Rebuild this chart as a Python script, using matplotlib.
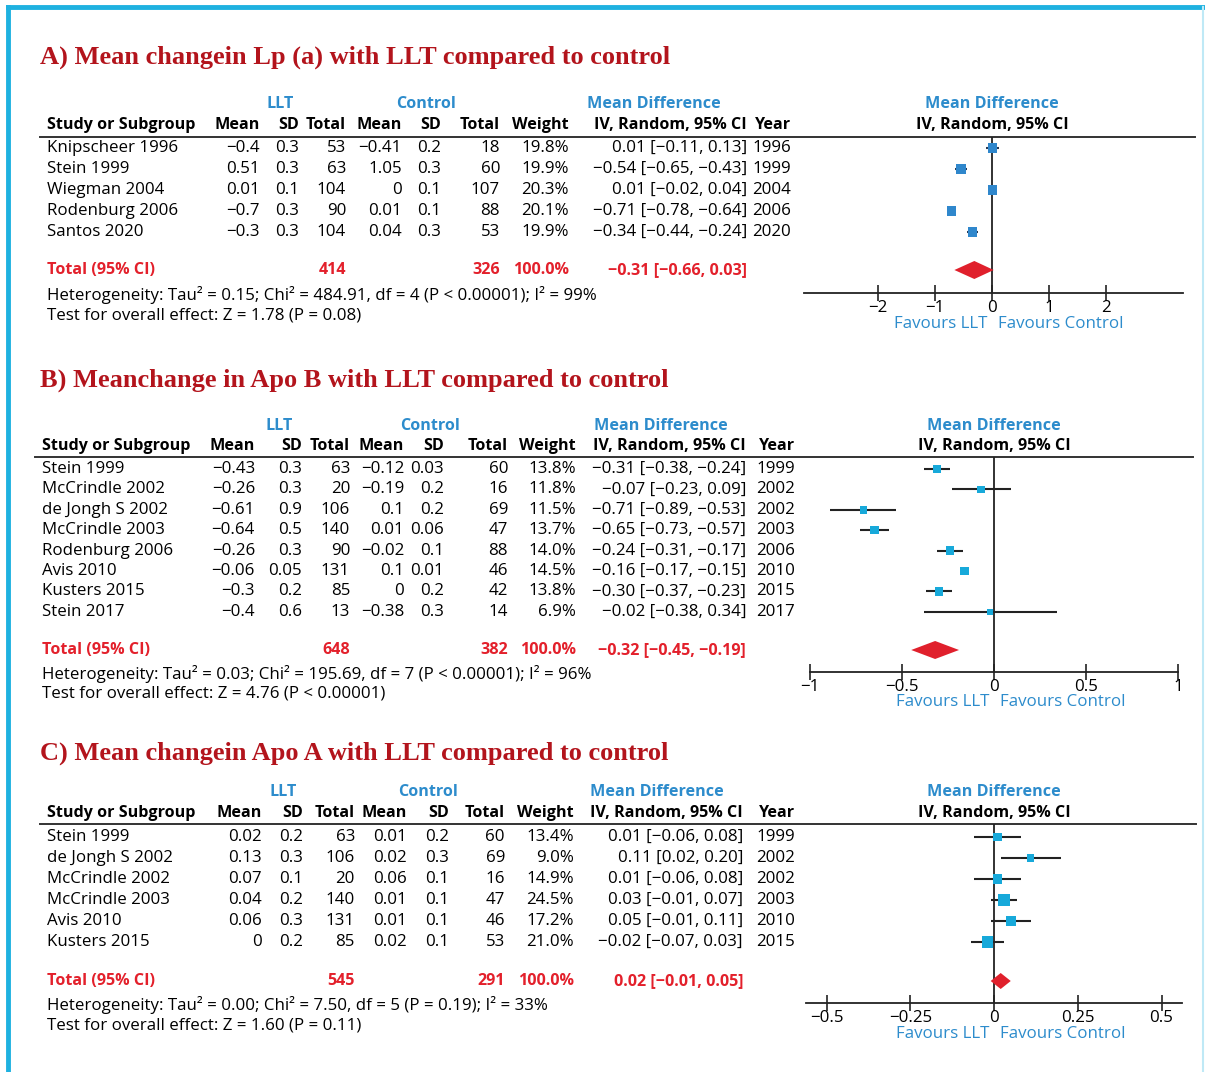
#!/usr/bin/env python3
# Forest plots: Lp(a), Apo B, Apo A change with LLT vs control

import numpy as np
import matplotlib.pyplot as plt

plt.rcParams['font.family'] = ['Open Sans', 'DejaVu Sans']

# ---------- DATA ----------
a_title = "A) Mean changein Lp (a) with LLT compared to control"
a_study = ["Knipscheer 1996", "Stein 1999", "Wiegman 2004", "Rodenburg 2006", "Santos 2020"]
a_llt_mean = [-0.4, 0.51, 0.01, -0.7, -0.3]
a_llt_sd = [0.3, 0.3, 0.1, 0.3, 0.3]
a_llt_n = [53, 63, 104, 90, 104]
a_ctl_mean = [-0.41, 1.05, 0, 0.01, 0.04]
a_ctl_sd = [0.2, 0.3, 0.1, 0.1, 0.3]
a_ctl_n = [18, 60, 107, 88, 53]
a_weight = [19.8, 19.9, 20.3, 20.1, 19.9]
a_md = [0.01, -0.54, 0.01, -0.71, -0.34]
a_lo = [-0.11, -0.65, -0.02, -0.78, -0.44]
a_hi = [0.13, -0.43, 0.04, -0.64, -0.24]
a_year = [1996, 1999, 2004, 2006, 2020]
a_total = [414, 326, -0.31, -0.66, 0.03]
a_het = "Heterogeneity: Tau² = 0.15; Chi² = 484.91, df = 4 (P < 0.00001); I² = 99%"
a_test = "Test for overall effect: Z = 1.78 (P = 0.08)"
a_ticks = [-2, -1, 0, 1, 2]
a_ticklabels = ["−2", "−1", "0", "1", "2"]

b_title = "B) Meanchange in Apo B with LLT compared to control"
b_study = ["Stein 1999", "McCrindle 2002", "de Jongh S 2002", "McCrindle 2003",
           "Rodenburg 2006", "Avis 2010", "Kusters 2015", "Stein 2017"]
b_llt_mean = [-0.43, -0.26, -0.61, -0.64, -0.26, -0.06, -0.3, -0.4]
b_llt_sd = [0.3, 0.3, 0.9, 0.5, 0.3, 0.05, 0.2, 0.6]
b_llt_n = [63, 20, 106, 140, 90, 131, 85, 13]
b_ctl_mean = [-0.12, -0.19, 0.1, 0.01, -0.02, 0.1, 0, -0.38]
b_ctl_sd = [0.03, 0.2, 0.2, 0.06, 0.1, 0.01, 0.2, 0.3]
b_ctl_n = [60, 16, 69, 47, 88, 46, 42, 14]
b_weight = [13.8, 11.8, 11.5, 13.7, 14.0, 14.5, 13.8, 6.9]
b_md = [-0.31, -0.07, -0.71, -0.65, -0.24, -0.16, -0.30, -0.02]
b_lo = [-0.38, -0.23, -0.89, -0.73, -0.31, -0.17, -0.37, -0.38]
b_hi = [-0.24, 0.09, -0.53, -0.57, -0.17, -0.15, -0.23, 0.34]
b_year = [1999, 2002, 2002, 2003, 2006, 2010, 2015, 2017]
b_total = [648, 382, -0.32, -0.45, -0.19]
b_het = "Heterogeneity: Tau² = 0.03; Chi² = 195.69, df = 7 (P < 0.00001); I² = 96%"
b_test = "Test for overall effect: Z = 4.76 (P < 0.00001)"
b_ticks = [-1, -0.5, 0, 0.5, 1]
b_ticklabels = ["−1", "−0.5", "0", "0.5", "1"]

c_title = "C) Mean changein Apo A with LLT compared to control"
c_study = ["Stein 1999", "de Jongh S 2002", "McCrindle 2002", "McCrindle 2003",
           "Avis 2010", "Kusters 2015"]
c_llt_mean = [0.02, 0.13, 0.07, 0.04, 0.06, 0]
c_llt_sd = [0.2, 0.3, 0.1, 0.2, 0.3, 0.2]
c_llt_n = [63, 106, 20, 140, 131, 85]
c_ctl_mean = [0.01, 0.02, 0.06, 0.01, 0.01, 0.02]
c_ctl_sd = [0.2, 0.3, 0.1, 0.1, 0.1, 0.1]
c_ctl_n = [60, 69, 16, 47, 46, 53]
c_weight = [13.4, 9.0, 14.9, 24.5, 17.2, 21.0]
c_md = [0.01, 0.11, 0.01, 0.03, 0.05, -0.02]
c_lo = [-0.06, 0.02, -0.06, -0.01, -0.01, -0.07]
c_hi = [0.08, 0.20, 0.08, 0.07, 0.11, 0.03]
c_year = [1999, 2002, 2002, 2003, 2010, 2015]
c_total = [545, 291, 0.02, -0.01, 0.05]
c_het = "Heterogeneity: Tau² = 0.00; Chi² = 7.50, df = 5 (P = 0.19); I² = 33%"
c_test = "Test for overall effect: Z = 1.60 (P = 0.11)"
c_ticks = [-0.5, -0.25, 0, 0.25, 0.5]
c_ticklabels = ["−0.5", "−0.25", "0", "0.25", "0.5"]

# ---------- STYLE ----------
TITLE_RED = '#b3141c'
BLUE = '#2d8ccc'
RED = '#e3202b'
DIAMOND = '#e0202c'
BORDER = '#1eb1e0'
FS = 12.2      # regular text
FSB = 11.6     # bold headers

W, H = 1205, 1072


def fmt(v):
    return str(v).replace('-', '−')


def fmt_ci(md, lo, hi):
    return f"{md:.2f} [{lo:.2f}, {hi:.2f}]".replace('-', '−')


def panel(bg, title, study, llt_mean, llt_sd, llt_n, ctl_mean, ctl_sd, ctl_n,
          weight, md, lo, hi, year, total, het, test, ticks, ticklabels, lay):
    cols = lay['cols']
    # title
    bg.text(40, lay['title_y'], title, family='Liberation Serif', weight='bold',
            fontsize=19, color=TITLE_RED, va='center', ha='left')
    # group headers
    for x, s in zip(lay['grp_x'], ["LLT", "Control", "Mean Difference"]):
        bg.text(x, lay['grp_y'], s, color=BLUE, weight='bold', fontsize=FSB,
                ha='center', va='center')
    bg.text(lay['zero_px'], lay['grp_y'], "Mean Difference", color=BLUE,
            weight='bold', fontsize=FSB, ha='center', va='center')
    bg.text(lay['zero_px'], lay['hdr_y'], "IV, Random, 95% CI",
            weight='bold', fontsize=FSB, ha='center', va='center')
    # column headers
    bg.text(lay['name_x'], lay['hdr_y'], "Study or Subgroup", weight='bold',
            fontsize=FSB, ha='left', va='center')
    heads = ["Mean", "SD", "Total", "Mean", "SD", "Total", "Weight",
             "IV, Random, 95% CI", "Year"]
    for x, s in zip(cols, heads):
        bg.text(x, lay['hdr_y'], s, weight='bold', fontsize=FSB, ha='right', va='center')
    bg.plot(lay['line_x'], [lay['line_y']] * 2, color='#333333', lw=1.4)

    # rows
    for i in range(len(study)):
        y = lay['row0'] + i * lay['dy']
        vals = [fmt(llt_mean[i]), fmt(llt_sd[i]), str(llt_n[i]),
                fmt(ctl_mean[i]), fmt(ctl_sd[i]), str(ctl_n[i]),
                f"{weight[i]:.1f}%", fmt_ci(md[i], lo[i], hi[i]), str(year[i])]
        bg.text(lay['name_x'], y, study[i], fontsize=FS, ha='left', va='center')
        for x, s in zip(cols, vals):
            bg.text(x, y, s, fontsize=FS, ha='right', va='center')

    # totals
    ty = lay['total_y']
    bg.text(lay['name_x'], ty, "Total (95% CI)", color=RED, weight='bold',
            fontsize=FSB, ha='left', va='center')
    tot_vals = [(cols[2], str(total[0])), (cols[5], str(total[1])),
                (cols[6], "100.0%"), (cols[7], fmt_ci(total[2], total[3], total[4]))]
    for x, s in tot_vals:
        bg.text(x, ty, s, color=RED, weight='bold', fontsize=FSB, ha='right', va='center')
    bg.text(lay['name_x'], lay['het_y'], het, fontsize=FS, ha='left', va='center')
    bg.text(lay['name_x'], lay['test_y'], test, fontsize=FS, ha='left', va='center')

    # ---------- forest ----------
    fx0, fx1 = 790, 1200
    fy0, fy1 = lay['line_y'] - 2, lay['axis_y'] + 40
    ax = bg.figure.add_axes([fx0 / W, 1 - fy1 / H, (fx1 - fx0) / W, (fy1 - fy0) / H])
    z, u = lay['zero_px'], lay['unit_px']
    ax.set_xlim((fx0 - z) / u, (fx1 - z) / u)
    r0, dy = lay['row0'], lay['dy']
    to_row = lambda p: (p - r0) / dy
    ax.set_ylim(to_row(fy1), to_row(fy0))
    ax.patch.set_alpha(0)

    rows = np.arange(len(study))
    ax.vlines(0, to_row(lay['line_y']), to_row(lay['axis_y']), color='#222222', lw=1.3)
    ax.hlines(rows, lo, hi, color=lay['ci_col'], lw=1.5, zorder=2)
    sizes = lay['msize'] * np.sqrt(np.array(weight))
    ax.scatter(md, rows, s=sizes ** 2, marker='s', color=lay['mcol'],
               linewidths=0, zorder=3)
    # pooled diamond
    trow = to_row(ty)
    hh = lay['dh'] / dy
    ax.fill([total[3], total[2], total[4], total[2]],
            [trow, trow - hh, trow, trow + hh], color=DIAMOND, lw=0, zorder=3)

    # bottom axis
    for s in ['top', 'left', 'right']:
        ax.spines[s].set_visible(False)
    ax.spines['bottom'].set_position(('data', to_row(lay['axis_y'])))
    ax.spines['bottom'].set_bounds(*lay['axis_range'])
    ax.spines['bottom'].set_linewidth(1.3)
    ax.spines['bottom'].set_color('#222222')
    ax.set_yticks([])
    ax.set_xticks(ticks)
    ax.set_xticklabels(ticklabels, fontsize=FS)
    ax.tick_params(axis='x', direction='inout', length=12, width=1.2,
                   color='#222222', pad=-1)

    bg.text(z - 5, lay['fav_y'], "Favours LLT", color=BLUE, fontsize=FS,
            ha='right', va='center')
    bg.text(z + 6, lay['fav_y'], "Favours Control", color=BLUE, fontsize=FS,
            ha='left', va='center')


# ---------- LAYOUT ----------
lay_a = dict(title_y=57, grp_y=104, hdr_y=125, line_y=137, line_x=[40, 1195],
             row0=148, dy=21, total_y=270, het_y=295, test_y=316,
             axis_y=293, fav_y=324, zero_px=992, unit_px=57,
             axis_range=(-3.3, 3.35), name_x=47,
             grp_x=[280, 426, 654],
             cols=[260, 299, 346, 402, 441, 500, 569, 747, 791],
             mcol='#2f87cc', ci_col='#2a3a55', msize=1.55, dh=9)
lay_b = dict(title_y=380, grp_y=426, hdr_y=446, line_y=457, line_x=[35, 1193],
             row0=469, dy=20.4, total_y=650, het_y=674, test_y=694,
             axis_y=672, fav_y=702, zero_px=994, unit_px=184,
             axis_range=(-1, 1), name_x=42,
             grp_x=[279, 430, 661],
             cols=[255, 302, 350, 404, 444, 508, 576, 746, 795],
             mcol='#17a9da', ci_col='#222222', msize=1.6, dh=9)
lay_c = dict(title_y=753, grp_y=792, hdr_y=813, line_y=824, line_x=[40, 1196],
             row0=837, dy=21, total_y=981, het_y=1005, test_y=1026,
             axis_y=1003, fav_y=1034, zero_px=994, unit_px=335,
             axis_range=(-0.56, 0.56), name_x=47,
             grp_x=[283, 428, 657],
             cols=[262, 303, 355, 407, 449, 505, 574, 743, 795],
             mcol='#17a9da', ci_col='#222222', msize=1.75, dh=8)

# ---------- PLOT ----------
fig = plt.figure(figsize=(W / 100, H / 100), dpi=100)
bg = fig.add_axes([0, 0, 1, 1])
bg.set_xlim(0, W)
bg.set_ylim(H, 0)
bg.axis('off')

# frame
bg.plot([8, 8], [7, H], color=BORDER, lw=3.5)
bg.plot([8, W], [7, 7], color=BORDER, lw=3.5)
bg.plot([W - 2, W - 2], [7, H], color='#bfe9f6', lw=1.5)

panel(bg, a_title, a_study, a_llt_mean, a_llt_sd, a_llt_n, a_ctl_mean, a_ctl_sd,
      a_ctl_n, a_weight, a_md, a_lo, a_hi, a_year, a_total, a_het, a_test,
      a_ticks, a_ticklabels, lay_a)
panel(bg, b_title, b_study, b_llt_mean, b_llt_sd, b_llt_n, b_ctl_mean, b_ctl_sd,
      b_ctl_n, b_weight, b_md, b_lo, b_hi, b_year, b_total, b_het, b_test,
      b_ticks, b_ticklabels, lay_b)
panel(bg, c_title, c_study, c_llt_mean, c_llt_sd, c_llt_n, c_ctl_mean, c_ctl_sd,
      c_ctl_n, c_weight, c_md, c_lo, c_hi, c_year, c_total, c_het, c_test,
      c_ticks, c_ticklabels, lay_c)

fig.savefig('out.png', dpi=100)
